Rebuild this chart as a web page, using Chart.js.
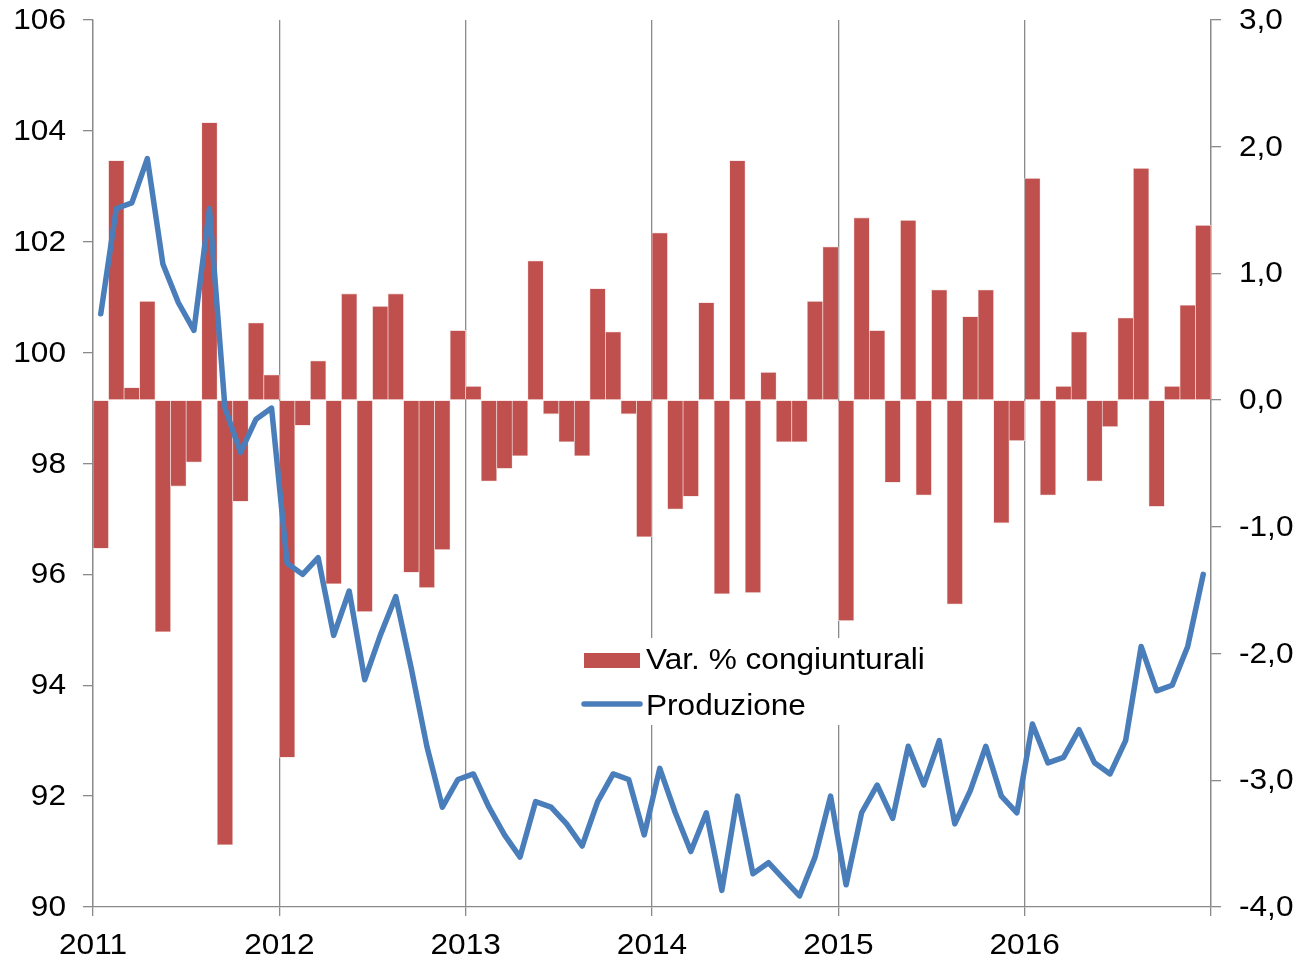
<!DOCTYPE html>
<html>
<head>
<meta charset="utf-8">
<script src="https://cdn.jsdelivr.net/npm/chart.js@4.4.0/dist/chart.umd.min.js"></script>
<style>
html,body{margin:0;padding:0;background:#fff;overflow:hidden}
#wrap{width:1299px;height:961px}
canvas{display:block}
</style>
</head>
<body>
<div id="wrap"><canvas id="c" width="1299" height="961"></canvas></div>
<script>
// ---- data ----
const YEARS = ['2011', '2012', '2013', '2014', '2015', '2016'];
const MONTHS_PER_YEAR = 12;

// Produzione (left axis, index)
const PRODUZIONE_2011 = [100.7, 102.6, 102.7, 103.5, 101.6, 100.9, 100.4, 102.6, 99.0, 98.2, 98.8, 99.0];
const PRODUZIONE_2012 = [96.2, 96.0, 96.3, 94.9, 95.7, 94.1, 94.9, 95.6, 94.3, 92.9, 91.8, 92.3];
const PRODUZIONE_2013 = [92.4, 91.8, 91.3, 90.9, 91.9, 91.8, 91.5, 91.1, 91.9, 92.4, 92.3, 91.3];
const PRODUZIONE_2014 = [92.5, 91.7, 91.0, 91.7, 90.3, 92.0, 90.6, 90.8, 90.5, 90.2, 90.9, 92.0];
const PRODUZIONE_2015 = [90.4, 91.7, 92.2, 91.6, 92.9, 92.2, 93.0, 91.5, 92.1, 92.9, 92.0, 91.7];
const PRODUZIONE_2016 = [93.3, 92.6, 92.7, 93.2, 92.6, 92.4, 93.0, 94.7, 93.9, 94.0, 94.7, 96.0];

// Var. % congiunturali (right axis)
const VAR_2011 = [-1.17, 1.89, 0.10, 0.78, -1.83, -0.68, -0.49, 2.19, -3.51, -0.80, 0.61, 0.20];
const VAR_2012 = [-2.82, -0.20, 0.31, -1.45, 0.84, -1.67, 0.74, 0.84, -1.36, -1.48, -1.18, 0.55];
const VAR_2013 = [0.11, -0.64, -0.54, -0.44, 1.10, -0.11, -0.33, -0.44, 0.88, 0.54, -0.11, -1.08];
const VAR_2014 = [1.32, -0.86, -0.76, 0.77, -1.53, 1.89, -1.52, 0.22, -0.33, -0.33, 0.78, 1.21];
const VAR_2015 = [-1.74, 1.44, 0.55, -0.65, 1.42, -0.75, 0.87, -1.61, 0.66, 0.87, -0.97, -0.32];
const VAR_2016 = [1.75, -0.75, 0.11, 0.54, -0.64, -0.21, 0.65, 1.83, -0.84, 0.11, 0.75, 1.38];

const SERIES_LABELS = ['Var. % congiunturali', 'Produzione'];
const LEFT_AXIS = [90, 106, 2];     // min, max, step
const RIGHT_AXIS = [-4, 3, 1];      // min, max, step

// ---- build ----
const PRODUZIONE = [].concat(PRODUZIONE_2011, PRODUZIONE_2012, PRODUZIONE_2013, PRODUZIONE_2014, PRODUZIONE_2015, PRODUZIONE_2016);
const VARIAZIONI = [].concat(VAR_2011, VAR_2012, VAR_2013, VAR_2014, VAR_2015, VAR_2016);
const N = PRODUZIONE.length;
const toPoints = arr => arr.map((v, i) => ({ x: i + 0.5, y: v }));

const RED = '#C0504D';
const BLUE = '#4A7EBB';
const GRID = '#8A8A8A';
const LINE_W = 5.5;
const FONT = '29px "Liberation Sans", Arial, sans-serif';
const SX = 1.09; // horizontal stretch of the text

function stretchedText(ctx, text, x, y, align, baseline) {
  ctx.save();
  ctx.translate(x, y);
  ctx.scale(SX, 1);
  ctx.font = FONT;
  ctx.fillStyle = '#000';
  ctx.textAlign = align;
  ctx.textBaseline = baseline;
  ctx.fillText(text, 0, 0);
  ctx.restore();
}

const textPlugin = {
  id: 'textAndLegend',
  beforeDatasetsDraw(chart) {
    const ctx = chart.ctx;
    ctx.save();
    ctx.fillStyle = '#fff';
    ctx.fillRect(576, 638, 370, 87);
    ctx.restore();
  },
  afterDraw(chart) {
    const ctx = chart.ctx;
    const sx = chart.scales.x, sy = chart.scales.y, sy1 = chart.scales.y1;
    sy.ticks.forEach(t => {
      stretchedText(ctx, t.label, 66, sy.getPixelForValue(t.value) + 1, 'right', 'middle');
    });
    sy1.ticks.forEach(t => {
      stretchedText(ctx, t.label, 1239, sy1.getPixelForValue(t.value) + 1, 'left', 'middle');
    });
    sx.ticks.forEach(t => {
      if (t.label) stretchedText(ctx, t.label, sx.getPixelForValue(t.value), 954, 'center', 'alphabetic');
    });
    // legend
    const ds = chart.data.datasets;
    const bar = ds.find(d => d.type === 'bar');
    const line = ds.find(d => d.type === 'line');
    ctx.save();
    ctx.fillStyle = bar.backgroundColor;
    ctx.fillRect(584, 653, 56, 15);
    ctx.strokeStyle = line.borderColor;
    ctx.lineWidth = LINE_W;
    ctx.lineCap = 'round';
    ctx.beginPath();
    ctx.moveTo(584, 704);
    ctx.lineTo(640, 704);
    ctx.stroke();
    ctx.restore();
    stretchedText(ctx, bar.label, 646, 669, 'left', 'alphabetic');
    stretchedText(ctx, line.label, 646, 715, 'left', 'alphabetic');
  }
};

const fmtComma = v => v.toFixed(1).replace('.', ',');

new Chart(document.getElementById('c'), {
  type: 'bar',
  data: {
    datasets: [
      {
        type: 'line',
        label: SERIES_LABELS[1],
        data: toPoints(PRODUZIONE),
        yAxisID: 'y',
        borderColor: BLUE,
        backgroundColor: BLUE,
        borderWidth: LINE_W,
        pointRadius: 0,
        tension: 0,
        borderJoinStyle: 'round',
        borderCapStyle: 'round',
        order: 0
      },
      {
        type: 'bar',
        label: SERIES_LABELS[0],
        data: toPoints(VARIAZIONI),
        yAxisID: 'y1',
        backgroundColor: RED,
        borderColor: '#F2DCDB',
        borderWidth: { left: 0.7, right: 0.7, top: 0.8, bottom: 0.8 },
        barPercentage: 1,
        categoryPercentage: 1,
        order: 1
      }
    ]
  },
  options: {
    responsive: false,
    devicePixelRatio: 1,
    animation: false,
    events: [],
    layout: { padding: { top: 20, left: 0, right: 0, bottom: 0 } },
    plugins: { legend: { display: false }, tooltip: { enabled: false } },
    scales: {
      x: {
        type: 'linear',
        min: 0,
        max: N,
        offset: false,
        afterFit: s => { s.height = 54; },
        afterBuildTicks: s => {
          s.ticks = [];
          for (let v = 0; v <= N; v += MONTHS_PER_YEAR) s.ticks.push({ value: v });
        },
        ticks: {
          display: false,
          callback: v => YEARS[v / MONTHS_PER_YEAR] || ''
        },
        grid: { color: GRID, lineWidth: 1.3, drawTicks: true, tickLength: 9, offset: false },
        border: { display: true, color: GRID, width: 1.3 }
      },
      y: {
        position: 'left',
        min: LEFT_AXIS[0],
        max: LEFT_AXIS[1],
        afterFit: s => { s.width = 93; },
        ticks: { display: false, stepSize: LEFT_AXIS[2], callback: v => String(v) },
        grid: { drawOnChartArea: false, drawTicks: true, tickLength: 10, color: GRID, lineWidth: 1.3 },
        border: { display: true, color: GRID, width: 1.3 }
      },
      y1: {
        position: 'right',
        min: RIGHT_AXIS[0],
        max: RIGHT_AXIS[1],
        afterFit: s => { s.width = 88; },
        ticks: { display: false, stepSize: RIGHT_AXIS[2], callback: v => fmtComma(v) },
        grid: { drawOnChartArea: false, drawTicks: true, tickLength: 10, color: GRID, lineWidth: 1.3 },
        border: { display: true, color: GRID, width: 1.3 }
      }
    }
  },
  plugins: [textPlugin]
});
</script>
</body>
</html>
